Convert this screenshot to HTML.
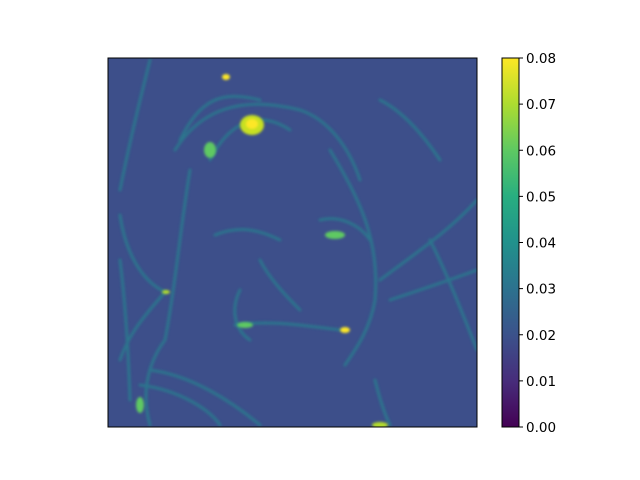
<!DOCTYPE html>
<html><head><meta charset="utf-8"><style>
body{margin:0;background:#fff;}
svg{display:block;font-family:"DejaVu Sans","Liberation Sans",sans-serif;}
</style></head><body>
<svg width="640" height="480" viewBox="0 0 640 480">
<defs>
<linearGradient id="vir" x1="0" y1="1" x2="0" y2="0">
<stop offset="0" stop-color="#440154"/><stop offset="0.125" stop-color="#472d7b"/>
<stop offset="0.25" stop-color="#3b528b"/><stop offset="0.375" stop-color="#2c728e"/>
<stop offset="0.5" stop-color="#21918c"/><stop offset="0.625" stop-color="#28ae80"/>
<stop offset="0.75" stop-color="#5ec962"/><stop offset="0.875" stop-color="#addc30"/>
<stop offset="1" stop-color="#fde725"/></linearGradient>
<filter id="blur"><feGaussianBlur stdDeviation="1.2"/></filter>
<clipPath id="ax"><rect x="108" y="58" width="369" height="369"/></clipPath>
</defs>
<g clip-path="url(#ax)">
<rect x="108" y="58" width="369" height="369" fill="#3d4f8a"/>
<g fill="none" stroke="#2a788e" stroke-width="3" stroke-linecap="round" filter="url(#blur)" opacity="0.9">
<path d="M150 60 C140 100 130 140 120 190"/>
<path d="M175 150 C200 110 240 95 300 110 C330 120 350 150 360 180"/>
<path d="M180 140 C200 100 220 90 260 100"/>
<path d="M210 160 C230 120 260 110 290 130"/>
<path d="M190 170 C180 230 175 290 165 340 C150 360 140 390 150 425"/>
<path d="M120 215 C125 250 140 280 165 292 C150 310 130 330 120 360"/>
<path d="M330 150 C360 200 380 240 375 300 C370 330 355 350 345 365"/>
<path d="M215 235 C240 225 260 230 280 240"/>
<path d="M320 220 C340 215 360 225 370 240"/>
<path d="M240 290 C230 310 235 330 250 340"/>
<path d="M235 325 C270 320 300 325 340 330"/>
<path d="M260 260 C270 280 290 300 300 310"/>
<path d="M150 370 C190 375 230 400 260 425"/>
<path d="M140 385 C180 390 210 410 220 425"/>
<path d="M375 380 C380 400 385 415 390 425"/>
<path d="M380 280 C420 250 450 230 477 200"/>
<path d="M390 300 C420 290 450 280 477 270"/>
<path d="M380 100 C400 110 420 130 440 160"/>
<path d="M430 240 C450 280 465 320 477 350"/>
<path d="M120 260 C125 300 128 340 130 400"/>
</g>
<g filter="url(#blur)">
<ellipse cx="252" cy="125" rx="12" ry="10" fill="#c7e020"/>
<ellipse cx="252" cy="124" rx="6" ry="5" fill="#fde725"/>
<ellipse cx="226" cy="77" rx="4" ry="3" fill="#fde725"/>
<ellipse cx="345" cy="330" rx="5" ry="3" fill="#fde725"/>
<ellipse cx="166" cy="292" rx="4" ry="2" fill="#b5de2b"/>
<ellipse cx="335" cy="235" rx="10" ry="4" fill="#5ec962"/>
<ellipse cx="380" cy="425" rx="8" ry="3" fill="#b5de2b"/>
<ellipse cx="210" cy="150" rx="6" ry="8" fill="#5ec962"/>
<ellipse cx="245" cy="325" rx="8" ry="3" fill="#5ec962"/>
<ellipse cx="140" cy="405" rx="4" ry="8" fill="#5ec962"/>
</g>
</g>
<rect x="108" y="58" width="369" height="369" fill="none" stroke="#000" stroke-width="1"/>
<rect x="502" y="58" width="17" height="369" fill="url(#vir)"/>
<rect x="502" y="58" width="17" height="369" fill="none" stroke="#000" stroke-width="1"/>
<g id="cbticks"></g>
</svg>
<script>
const tickValues = [0, 0.01, 0.02, 0.03, 0.04, 0.05, 0.06, 0.07, 0.08];
const tickLabels = ["0.00","0.01","0.02","0.03","0.04","0.05","0.06","0.07","0.08"];
const vmin = 0, vmax = 0.08;
function yScale(v){ return 427 - (v - vmin) / (vmax - vmin) * 369; }
const g = document.getElementById('cbticks');
const ns = 'http://www.w3.org/2000/svg';
tickValues.forEach((v, i) => {
  const y = yScale(v);
  const l = document.createElementNS(ns, 'line');
  l.setAttribute('x1', 519); l.setAttribute('x2', 523);
  l.setAttribute('y1', y); l.setAttribute('y2', y);
  l.setAttribute('stroke', '#000');
  
  
  g.appendChild(l);
  const t = document.createElementNS(ns, 'text');
  t.setAttribute('x', 526); t.setAttribute('y', y + 5);
  t.setAttribute('font-size', '13.5');
  t.textContent = tickLabels[i];
  
  
  g.appendChild(t);
});
</script>
</body></html>
